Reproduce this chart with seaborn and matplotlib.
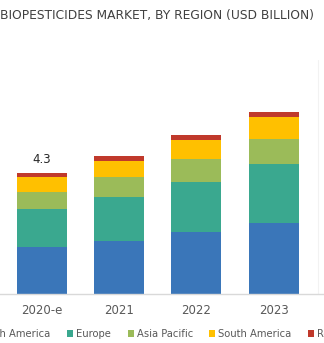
import matplotlib
matplotlib.use("Agg")
import matplotlib.pyplot as plt
import seaborn as sns
import numpy as np
import pandas as pd
from matplotlib.patches import Patch

years = ["2020-e", "2021", "2022", "2023"]
north_america = [1.67, 1.89, 2.21, 2.53]
europe = [1.35, 1.57, 1.78, 2.10]
asia_pacific = [0.60, 0.71, 0.82, 0.89]
south_america = [0.53, 0.57, 0.68, 0.78]
rest_of_world = [0.15, 0.17, 0.16, 0.18]
total_label = "4.3"
regions = ["North America", "Europe", "Asia Pacific", "South America", "Rest of the World"]
colors = ["#3a76b9", "#3aa88f", "#9bbb59", "#ffc000", "#c0392b"]

series = [north_america, europe, asia_pacific, south_america, rest_of_world]
df = pd.DataFrame({"year": years})
cum = np.zeros(len(years))
for name, vals in zip(regions, series):
    cum = cum + np.array(vals)
    df[name] = cum

sns.set_theme(style="white")
plt.rcParams['font.family'] = ['DejaVu Sans']

W, H = 324, 343
fig = plt.figure(figsize=(W / 100, H / 100), dpi=100)
base_px = 294
ax_h_px = 250
ax = fig.add_axes([0, (H - base_px) / H, 1, ax_h_px / H])

for name, col in reversed(list(zip(regions, colors))):
    sns.barplot(data=df, x="year", y=name, order=years, color=col,
                width=0.65, saturation=1, ax=ax, linewidth=0)

px_per_unit = 28.1
ax.set_ylim(0, ax_h_px / px_per_unit)
spacing = 77.2
ax.set_xlim(-42 / spacing, -42 / spacing + W / spacing)

sns.despine(ax=ax, left=True, top=True, right=True)
ax.spines['bottom'].set_color('#d9d9d9')
ax.spines['bottom'].set_linewidth(1.0)
ax.set_yticks([])
ax.set_xlabel("")
ax.set_ylabel("")
ax.tick_params(axis='x', length=0, pad=7.5, labelsize=8.5, labelcolor='#595959')

ax.text(0, df["Rest of the World"].iloc[0] + 0.27, total_label, ha='center', va='bottom',
        fontsize=8.5, color='#262626')

ax.axvline(-42 / spacing + 318.5 / spacing, ymin=0, ymax=(294 - 60) / ax_h_px,
           color='#f2f2f2', linewidth=0.8)

fig.text(0.0, 1 - 16 / H, "BIOPESTICIDES MARKET, BY REGION (USD BILLION)", ha='left',
         va='center', fontsize=8.85, color='#404040')

handles = [Patch(facecolor=c, edgecolor='none') for c in colors]
leg = fig.legend(handles, regions, loc='center left', ncol=5,
                 bbox_to_anchor=(-30.5 / W, 1 - 334 / H), frameon=False,
                 fontsize=7.2, handlelength=0.6, handleheight=0.6,
                 handletextpad=0.3, columnspacing=1.65, borderaxespad=0,
                 borderpad=0)
for t in leg.get_texts():
    t.set_color('#595959')

fig.savefig("out.png", dpi=100)
